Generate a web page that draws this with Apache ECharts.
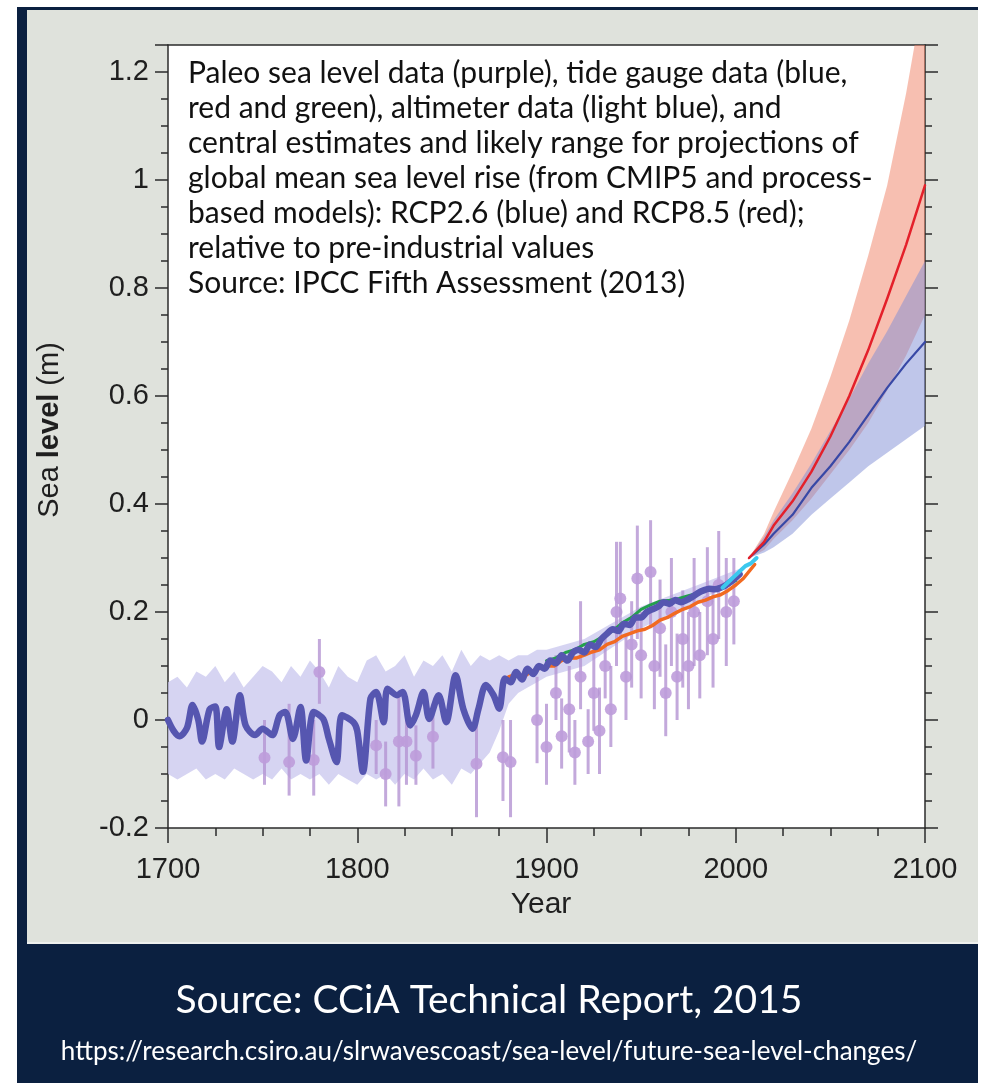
<!DOCTYPE html>
<html>
<head>
<meta charset="utf-8">
<script src="https://cdn.jsdelivr.net/npm/echarts@6/dist/echarts.min.js"></script>
<style>
  html, body { margin: 0; padding: 0; background: #ffffff; }
  #chart { width: 982px; height: 1083px; }
</style>
</head>
<body>
<div id="chart"></div>
<script>
// ---- Tide gauge reconstruction (blue, thick) ----
const tgBlueYears = [1700,1703,1706,1710,1713,1716,1718,1722,1725,1727,1731,1734,1738,1741,1746,1750,1755,1759,1762,1766,1770,1773,1777,1782,1785,1789,1792,1798,1800,1803,1807,1810,1814,1816,1821,1824,1828,1831,1835,1838,1843,1847,1852,1856,1861,1864,1868,1872,1875,1878,1881,1884,1887,1890,1893,1896,1899,1902,1905,1908,1911,1914,1917,1920,1923,1926,1929,1932,1935,1938,1941,1944,1947,1950,1953,1956,1959,1962,1965,1968,1971,1974,1977,1980,1983,1986,1989,1992,1995,1998,2002];
const tgBlueValues = [0.0,-0.02,-0.03,-0.015,0.028,0.0,-0.04,0.02,0.025,-0.05,0.02,-0.04,0.046,-0.01,-0.028,-0.016,-0.028,0.009,0.015,-0.035,0.024,-0.075,0.015,0.002,-0.035,-0.078,0.009,-0.004,-0.02,-0.096,0.04,0.052,-0.004,0.058,0.046,0.052,-0.01,0.009,0.052,0.002,0.046,-0.004,0.083,0.021,-0.016,0.02,0.065,0.046,0.021,0.077,0.07,0.089,0.075,0.095,0.085,0.1,0.095,0.11,0.105,0.12,0.11,0.125,0.13,0.125,0.14,0.135,0.15,0.16,0.168,0.165,0.178,0.176,0.19,0.19,0.2,0.205,0.21,0.218,0.215,0.222,0.218,0.222,0.228,0.235,0.24,0.243,0.242,0.245,0.25,0.258,0.27];

// Uncertainty envelope of the blue reconstruction
const tgBandYears = [1700,1705,1710,1715,1720,1725,1730,1735,1740,1745,1750,1755,1760,1765,1770,1775,1780,1785,1790,1795,1800,1805,1810,1815,1820,1825,1830,1835,1840,1845,1850,1855,1860,1865,1870,1875,1880,1885,1890,1895,1900,1920,1950,1980,2002];
const tgBandUpper = [0.07,0.08,0.06,0.09,0.08,0.1,0.07,0.09,0.06,0.08,0.1,0.09,0.07,0.1,0.08,0.11,0.09,0.06,0.1,0.08,0.07,0.11,0.12,0.09,0.1,0.12,0.08,0.11,0.1,0.12,0.09,0.13,0.1,0.12,0.11,0.12,0.11,0.12,0.12,0.13,0.13,0.15,0.21,0.25,0.28];
const tgBandLower = [-0.1,-0.11,-0.1,-0.09,-0.11,-0.1,-0.11,-0.09,-0.1,-0.11,-0.1,-0.11,-0.09,-0.11,-0.1,-0.11,-0.1,-0.12,-0.1,-0.11,-0.12,-0.1,-0.11,-0.1,-0.12,-0.1,-0.11,-0.09,-0.11,-0.1,-0.12,-0.09,-0.1,-0.08,-0.06,-0.02,0.03,0.05,0.06,0.07,0.08,0.1,0.17,0.22,0.26];

// ---- Tide gauge (red/orange) ----
const tgRedYears = [1880,1884,1888,1892,1896,1900,1904,1908,1912,1916,1920,1924,1928,1932,1936,1940,1944,1948,1952,1956,1960,1964,1968,1972,1976,1980,1984,1988,1992,1996,2000,2004,2007,2010];
const tgRedValues = [0.08,0.085,0.08,0.09,0.095,0.1,0.1,0.11,0.115,0.115,0.12,0.126,0.13,0.14,0.145,0.155,0.16,0.165,0.168,0.175,0.185,0.19,0.198,0.205,0.21,0.218,0.222,0.228,0.232,0.24,0.25,0.262,0.275,0.288];

// ---- Tide gauge (green) ----
const tgGreenYears = [1900,1905,1910,1915,1920,1925,1930,1935,1940,1945,1950,1955,1960,1965,1970,1975,1980,1985,1990,1995,2000];
const tgGreenValues = [0.11,0.115,0.125,0.13,0.14,0.145,0.155,0.165,0.18,0.19,0.205,0.213,0.22,0.222,0.225,0.23,0.235,0.243,0.245,0.25,0.258];

// ---- Satellite altimetry (light blue) ----
const altYears = [1993,1996,1999,2002,2005,2008,2011];
const altValues = [0.245,0.255,0.265,0.275,0.285,0.29,0.3];

// ---- Paleo sea level points with error bars (purple) ----
const paleoYears = [1751,1764,1777,1780,1810,1815,1822,1826,1831,1840,1863,1877,1881,1895,1900,1905,1908,1912,1915,1918,1922,1925,1928,1931,1934,1937,1939,1942,1945,1948,1950,1955,1957,1960,1963,1966,1969,1972,1975,1978,1981,1985,1988,1991,1995,1999];
const paleoValues = [-0.07,-0.078,-0.074,0.089,-0.047,-0.1,-0.04,-0.04,-0.066,-0.031,-0.081,-0.069,-0.078,0.0,-0.05,0.05,-0.03,0.02,-0.06,0.08,-0.04,0.05,-0.02,0.1,0.02,0.2,0.225,0.08,0.14,0.262,0.12,0.274,0.1,0.17,0.05,0.2,0.08,0.15,0.1,0.2,0.12,0.22,0.15,0.25,0.2,0.22];
const paleoLow = [-0.12,-0.14,-0.14,0.03,-0.1,-0.16,-0.16,-0.12,-0.12,-0.09,-0.18,-0.15,-0.18,-0.08,-0.12,0.0,-0.09,-0.06,-0.12,0.02,-0.1,-0.02,-0.1,0.04,-0.05,0.1,0.15,0.0,0.06,0.15,0.04,0.17,0.02,0.08,-0.03,0.1,0.0,0.06,0.02,0.1,0.04,0.12,0.06,0.15,0.1,0.14];
const paleoHigh = [0.0,0.03,0.0,0.15,0.0,-0.04,0.05,0.03,-0.01,0.03,0.0,0.0,0.0,0.08,0.03,0.12,0.04,0.1,0.0,0.22,0.02,0.14,0.06,0.16,0.1,0.33,0.33,0.16,0.22,0.36,0.2,0.37,0.18,0.26,0.14,0.3,0.16,0.24,0.2,0.3,0.2,0.32,0.24,0.35,0.3,0.3];

// ---- Projections ----
const projYears = [2007,2015,2020,2030,2040,2050,2060,2070,2080,2090,2100];
const rcp85Mean  = [0.30,0.33,0.36,0.405,0.46,0.525,0.60,0.685,0.78,0.88,0.99];
const rcp85Upper = [0.30,0.345,0.385,0.46,0.54,0.635,0.74,0.86,0.99,1.16,1.36];
const rcp85Lower = [0.30,0.315,0.335,0.37,0.41,0.455,0.50,0.55,0.61,0.675,0.75];
const rcp26Mean  = [0.30,0.325,0.345,0.38,0.43,0.47,0.515,0.565,0.615,0.66,0.70];
const rcp26Upper = [0.30,0.34,0.37,0.42,0.475,0.535,0.595,0.66,0.72,0.785,0.85];
const rcp26Lower = [0.30,0.31,0.32,0.345,0.38,0.41,0.44,0.47,0.495,0.52,0.545];

// ---- Axis tick labels ----
const xTickLabels = ['1700','1800','1900','2000','2100'];
const yTickLabels = ['-0.2','0','0.2','0.4','0.6','0.8','1','1.2'];

const annotationLines = [
  'Paleo sea level data (purple), tide gauge data (blue,',
  'red and green), altimeter data (light blue), and',
  'central estimates and likely range for projections of',
  'global mean sea level rise (from CMIP5 and process-',
  'based models): RCP2.6 (blue) and RCP8.5 (red);',
  'relative to pre-industrial values',
  'Source: IPCC Fifth Assessment (2013)'
];

const pairs = (xs, ys) => xs.map((x, i) => [x, ys[i]]);

// Filled polygon between an upper and a lower edge, clipped to the grid
function bandSeries(xs, upper, lower, color, z) {
  return {
    type: 'custom',
    z: z,
    silent: true,
    data: [0],
    renderItem: function (params, api) {
      const top = xs.map((x, i) => api.coord([x, upper[i]]));
      const bottom = xs.map((x, i) => api.coord([x, lower[i]])).reverse();
      const cs = params.coordSys;
      return {
        type: 'group',
        clipPath: { type: 'rect', shape: { x: cs.x, y: cs.y, width: cs.width, height: cs.height } },
        children: [{
          type: 'polygon',
          shape: { points: top.concat(bottom) },
          style: { fill: color }
        }]
      };
    }
  };
}

function lineSeries(xs, ys, color, width, z, smooth) {
  return {
    type: 'line',
    data: pairs(xs, ys),
    showSymbol: false,
    symbol: 'none',
    smooth: smooth || false,
    z: z,
    silent: true,
    lineStyle: { color: color, width: width, join: 'round', cap: 'round' }
  };
}

const axisColor = '#2b2b2b';
const tickFont = '"Liberation Sans Narrow", "Liberation Sans", Arial, sans-serif';
const textFont = 'Lato, "Open Sans", sans-serif';

const chart = echarts.init(document.getElementById('chart'), null, { renderer: 'canvas' });

const option = {
  animation: false,
  backgroundColor: '#ffffff',
  grid: { left: 168, right: 57, top: 45, bottom: 255, show: true, backgroundColor: '#ffffff', borderWidth: 0 },
  xAxis: [
    {
      type: 'value', min: 1700, max: 2100, interval: 100, position: 'bottom',
      axisLine: { onZero: false, lineStyle: { color: axisColor, width: 1.5 } },
      axisTick: { show: true, length: 15, lineStyle: { color: axisColor, width: 1.5 } },
      axisLabel: {
        margin: 27, color: '#1f1f1f', fontSize: 29, fontFamily: tickFont,
        formatter: v => xTickLabels[Math.round((v - 1700) / 100)] || ''
      },
      splitLine: { show: false }
    },
    {
      type: 'value', min: 1700, max: 2100, interval: 25, position: 'bottom',
      axisLine: { show: false, onZero: false },
      axisTick: { show: true, length: 8, lineStyle: { color: axisColor, width: 1.5 } },
      axisLabel: { show: false }, splitLine: { show: false }
    },
    {
      type: 'value', min: 1700, max: 2100, position: 'top',
      axisLine: { show: true, onZero: false, lineStyle: { color: axisColor, width: 1.5 } },
      axisTick: { show: false }, axisLabel: { show: false }, splitLine: { show: false }
    }
  ],
  yAxis: [
    {
      type: 'value', min: -0.2, max: 1.25, interval: 0.2, position: 'left',
      axisLine: { show: true, onZero: false, lineStyle: { color: axisColor, width: 1.5 } },
      axisTick: { show: true, length: 13, lineStyle: { color: axisColor, width: 1.5 } },
      axisLabel: {
        margin: 19, color: '#1f1f1f', fontSize: 29, fontFamily: tickFont,
        formatter: function (v) {
          const k = Math.round((v + 0.2) / 0.2);
          return Math.abs(v - (-0.2 + k * 0.2)) < 1e-6 ? (yTickLabels[k] || '') : '';
        }
      },
      splitLine: { show: false }
    },
    {
      type: 'value', min: -0.2, max: 1.25, interval: 0.05, position: 'left',
      axisLine: { show: false, onZero: false },
      axisTick: { show: true, length: 7, lineStyle: { color: axisColor, width: 1.5 } },
      axisLabel: { show: false }, splitLine: { show: false }
    },
    {
      type: 'value', min: -0.2, max: 1.25, interval: 0.2, position: 'right',
      axisLine: { show: true, onZero: false, lineStyle: { color: axisColor, width: 1.5 } },
      axisTick: { show: true, length: 13, lineStyle: { color: axisColor, width: 1.5 } },
      axisLabel: { show: false }, splitLine: { show: false }
    },
    {
      type: 'value', min: -0.2, max: 1.25, interval: 0.05, position: 'right',
      axisLine: { show: false, onZero: false },
      axisTick: { show: true, length: 7, lineStyle: { color: axisColor, width: 1.5 } },
      axisLabel: { show: false }, splitLine: { show: false }
    }
  ],
  graphic: [
    // dark frame and grey panel behind the plot
    { type: 'rect', z: -100, silent: true, shape: { x: 17, y: 7, width: 961, height: 1076 }, style: { fill: '#0b2040' } },
    { type: 'rect', z: -99, silent: true, shape: { x: 27, y: 10, width: 951, height: 932 }, style: { fill: '#dfe2dc' } },
    { type: 'rect', z: -99, silent: true, shape: { x: 27, y: 942, width: 951, height: 2 }, style: { fill: '#eef0ee' } },
    // annotation inside the plot
    {
      type: 'text', z: 50, silent: true, left: 188, top: 56,
      style: { text: annotationLines.join('\n'), font: '30px ' + textFont, fill: '#111111', lineHeight: 35 }
    },
    // y-axis title
    {
      type: 'text', z: 50, silent: true, x: 50, y: 430, rotation: Math.PI / 2,
      style: {
        text: '{a|Sea }{b|level}{a| (m)}', align: 'center', verticalAlign: 'middle',
        rich: {
          a: { font: '29px ' + tickFont, fill: '#1f1f1f' },
          b: { font: 'bold 29px ' + tickFont, fill: '#1f1f1f' }
        }
      }
    },
    // x-axis title
    {
      type: 'text', z: 50, silent: true, x: 541, y: 905,
      style: { text: 'Year', font: '30px ' + tickFont, fill: '#1f1f1f', align: 'center', verticalAlign: 'middle' }
    },
    // source footer
    {
      type: 'text', z: 50, silent: true, x: 489, y: 1000,
      style: { text: 'Source: CCiA Technical Report, 2015', font: '39px ' + textFont, fill: '#ffffff', align: 'center', verticalAlign: 'middle' }
    },
    {
      type: 'text', z: 50, silent: true, x: 489, y: 1052,
      style: { text: 'https://research.csiro.au/slrwavescoast/sea-level/future-sea-level-changes/', font: '26px ' + textFont, fill: '#ffffff', align: 'center', verticalAlign: 'middle' }
    }
  ],
  series: [
    // reconstruction uncertainty
    bandSeries(tgBandYears, tgBandUpper, tgBandLower, 'rgba(200,198,238,0.75)', 1),
    // paleo points
    {
      type: 'custom', z: 2, silent: true,
      data: paleoYears.map((y, i) => [y, paleoValues[i], paleoLow[i], paleoHigh[i]]),
      renderItem: function (params, api) {
        const p = api.coord([api.value(0), api.value(1)]);
        const lo = api.coord([api.value(0), api.value(2)]);
        const hi = api.coord([api.value(0), api.value(3)]);
        return {
          type: 'group',
          children: [
            { type: 'line', shape: { x1: lo[0], y1: lo[1], x2: hi[0], y2: hi[1] }, style: { stroke: 'rgba(180,148,210,0.8)', lineWidth: 3 } },
            { type: 'circle', shape: { cx: p[0], cy: p[1], r: 6 }, style: { fill: 'rgba(190,156,218,0.9)' } }
          ]
        };
      }
    },
    lineSeries(tgRedYears, tgRedValues, '#f26a21', 3.5, 3),
    lineSeries(tgGreenYears, tgGreenValues, '#23a04c', 3, 4),
    lineSeries(tgBlueYears, tgBlueValues, '#5656b0', 6.5, 5, 0.3),
    lineSeries(altYears, altValues, '#3cc8ee', 4, 6),
    // projections
    bandSeries(projYears, rcp85Upper, rcp85Lower, 'rgba(240,128,100,0.5)', 7),
    bandSeries(projYears, rcp26Upper, rcp26Lower, 'rgba(128,142,214,0.5)', 8),
    lineSeries(projYears, rcp26Mean, '#3848a6', 2.2, 9),
    lineSeries(projYears, rcp85Mean, '#e4202a', 2.5, 10)
  ]
};

chart.setOption(option);
</script>
</body>
</html>
